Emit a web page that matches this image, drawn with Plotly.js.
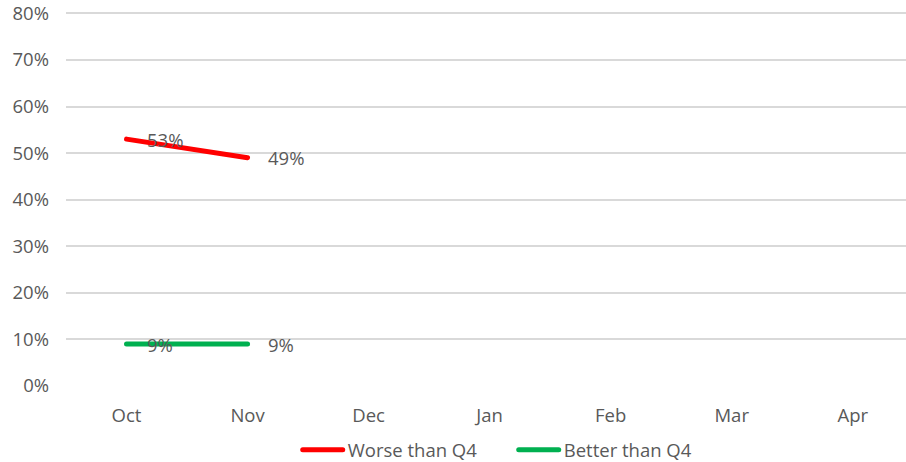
<!DOCTYPE html>
<html>
<head>
<meta charset="utf-8">
<script src="https://cdn.plot.ly/plotly-3.0.1.min.js"></script>
<style>
  html, body { margin: 0; padding: 0; background: #fff; }
  #chart { width: 906px; height: 462px; }
  /* rounded ends on the series lines and their legend swatches */
  #chart .scatterlayer path.js-line,
  #chart .legendlines path { stroke-linecap: round; }
</style>
</head>
<body>
<div id="chart"></div>
<script>
// Months on the category axis
const months = ['Oct', 'Nov', 'Dec', 'Jan', 'Feb', 'Mar', 'Apr'];
// Share of responses per month (only Oct and Nov reported so far)
const worseThanQ4 = [0.53, 0.49];
const betterThanQ4 = [0.09, 0.09];
const yTicks = [0, 0.1, 0.2, 0.3, 0.4, 0.5, 0.6, 0.7, 0.8];

const FONT = '"Open Sans", Lato, "Liberation Sans", sans-serif';
const GREY = '#595959';
const SIZE = 18.5;

function series(name, values, color) {
  return {
    type: 'scatter',
    mode: 'lines',
    name: name,
    x: months.slice(0, values.length),
    y: values,
    line: { color: color, width: 5 },
    hoverinfo: 'skip'
  };
}

// Value labels placed just right of each point
function labels(values) {
  return values.map((v, i) => ({
    x: months[i], y: v, xref: 'x', yref: 'y',
    text: Math.round(v * 100) + '%',
    showarrow: false, xanchor: 'left', yanchor: 'middle',
    xshift: 18,
    font: { family: FONT, size: SIZE, color: GREY }
  }));
}

const data = [
  series('Worse than Q4', worseThanQ4, '#FF0000'),
  series('Better than Q4', betterThanQ4, '#00B050'),
  // keeps every month on the axis although later months have no data yet
  { type: 'scatter', x: months, y: months.map(() => null), showlegend: false, hoverinfo: 'skip' }
];

const layout = {
  width: 906, height: 462,
  margin: { l: 66, r: 0, t: 11, b: 76, autoexpand: false },
  paper_bgcolor: '#fff', plot_bgcolor: '#fff',
  font: { family: FONT, color: GREY, size: SIZE },
  showlegend: true,
  legend: {
    orientation: 'h', x: 0.533, xanchor: 'center', y: -0.171, yanchor: 'middle',
    font: { family: FONT, size: SIZE, color: GREY },
    itemwidth: 40, entrywidth: 161, entrywidthmode: 'pixels'
  },
  xaxis: {
    type: 'category', categoryarray: months, categoryorder: 'array',
    range: [-0.5, 6.44],
    showgrid: false, zeroline: false, showline: false,
    ticks: '', ticklabelstandoff: 16, ticklabeloverflow: 'allow',
    tickfont: { family: FONT, size: SIZE, color: GREY },
    fixedrange: true
  },
  yaxis: {
    range: [0, 0.805],
    tickvals: yTicks,
    ticktext: yTicks.map(v => Math.round(v * 100) + '%'),
    showgrid: true, gridcolor: '#D9D9D9', gridwidth: 2,
    zeroline: false, showline: false, ticks: '',
    ticklabelstandoff: 16, ticklabeloverflow: 'allow',
    tickfont: { family: FONT, size: SIZE, color: GREY },
    fixedrange: true
  },
  annotations: labels(worseThanQ4).concat(labels(betterThanQ4))
};

Plotly.newPlot('chart', data, layout, { displayModeBar: false, staticPlot: true });
</script>
</body>
</html>
